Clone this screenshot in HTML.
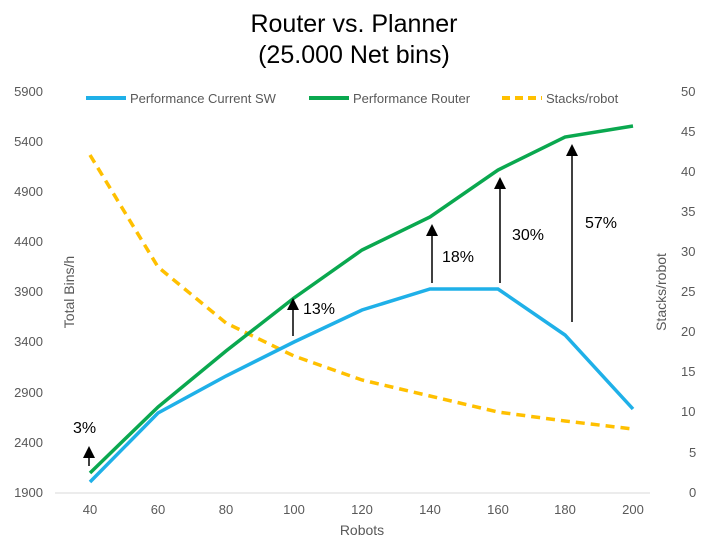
<!DOCTYPE html>
<html><head><style>
body{margin:0;background:#fff;}
svg text{font-family:"Liberation Sans",Arial,sans-serif;}
</style></head><body>
<svg width="709" height="545" viewBox="0 0 709 545" xmlns="http://www.w3.org/2000/svg">
<defs><marker id="ah" markerWidth="8" markerHeight="8" refX="4" refY="4" orient="auto"><path d="M0,0 L8,4 L0,8 z" fill="#000"/></marker></defs>
<text x="354" y="32" font-size="25" text-anchor="middle" fill="#000">Router vs. Planner</text>
<text x="354" y="63" font-size="25" text-anchor="middle" fill="#000">(25.000 Net bins)</text>
<g font-size="13" fill="#595959" text-anchor="end">
<text x="43" y="96">5900</text><text x="43" y="146">5400</text><text x="43" y="196">4900</text><text x="43" y="246">4400</text><text x="43" y="296">3900</text><text x="43" y="346">3400</text><text x="43" y="397">2900</text><text x="43" y="447">2400</text><text x="43" y="497">1900</text>
</g>
<g font-size="13" fill="#595959" text-anchor="start">
<text x="681" y="96">50</text><text x="681" y="136">45</text><text x="681" y="176">40</text><text x="681" y="216">35</text><text x="681" y="256">30</text><text x="681" y="296">25</text><text x="681" y="336">20</text><text x="681" y="376">15</text><text x="681" y="416">10</text><text x="689" y="457">5</text><text x="689" y="497">0</text>
</g>
<line x1="55" y1="493" x2="650" y2="493" stroke="#d9d9d9" stroke-width="1"/>
<g font-size="13" fill="#595959" text-anchor="middle">
<text x="90" y="514">40</text><text x="158" y="514">60</text><text x="226" y="514">80</text><text x="294" y="514">100</text><text x="362" y="514">120</text><text x="430" y="514">140</text><text x="498" y="514">160</text><text x="565" y="514">180</text><text x="633" y="514">200</text>
<text x="362" y="535" font-size="14">Robots</text>
</g>
<text transform="translate(74,292) rotate(-90)" font-size="14" fill="#595959" text-anchor="middle">Total Bins/h</text>
<text transform="translate(666,292) rotate(-90)" font-size="14" fill="#595959" text-anchor="middle">Stacks/robot</text>
<!-- legend -->
<line x1="86" y1="98" x2="126" y2="98" stroke="#1fb0e8" stroke-width="4"/>
<text x="130" y="103" font-size="13" fill="#595959">Performance Current SW</text>
<line x1="309" y1="98" x2="349" y2="98" stroke="#0aa84f" stroke-width="4"/>
<text x="353" y="103" font-size="13" fill="#595959">Performance Router</text>
<line x1="502" y1="98" x2="542" y2="98" stroke="#ffc000" stroke-width="4" stroke-dasharray="8,5"/>
<text x="546" y="103" font-size="13" fill="#595959">Stacks/robot</text>
<polyline fill="none" stroke="#ffc000" stroke-width="3.5" stroke-dasharray="9,6" points="90,155 158,267 226,323 294,356 362,380 430,396 498,412 565,421 633,429"/>
<polyline fill="none" stroke="#1fb0e8" stroke-width="3.5" points="90,482 158,413 226,376 294,342 362,310 430,289 498,289 565,335 633,409"/>
<polyline fill="none" stroke="#0aa84f" stroke-width="3.5" points="90,473 158,407 226,351 294,298 362,250 430,217 498,170 565,137 633,126"/>
<g stroke="#000" stroke-width="1.5" marker-end="url(#ah)">
<line x1="89" y1="466" x2="89" y2="452"/>
<line x1="293" y1="336" x2="293" y2="304"/>
<line x1="432" y1="283" x2="432" y2="230"/>
<line x1="500" y1="283" x2="500" y2="183"/>
<line x1="572" y1="322" x2="572" y2="150"/>
</g>
<g font-size="16" fill="#000">
<text x="73" y="433">3%</text>
<text x="303" y="314">13%</text>
<text x="442" y="262">18%</text>
<text x="512" y="240">30%</text>
<text x="585" y="228">57%</text>
</g>
</svg>
</body></html>
